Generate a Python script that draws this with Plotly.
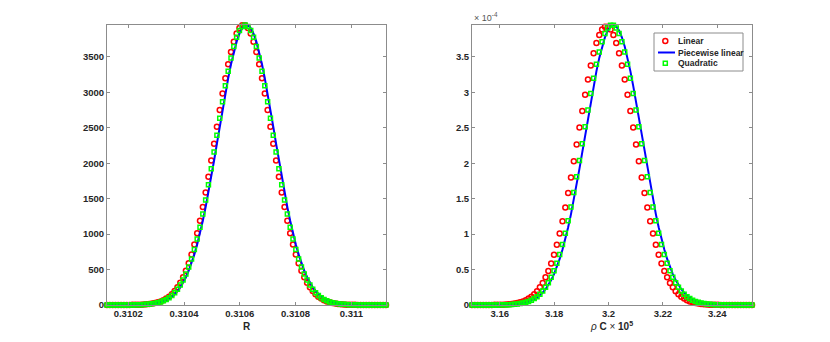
import plotly.graph_objects as go

# evaluation grid of the density estimates (left panel: R)
r_grid = [
    0.3101240, 0.3101341, 0.3101442, 0.3101543, 0.3101644, 0.3101745, 0.3101846, 0.3101947, 0.3102048, 0.3102149,
    0.3102250, 0.3102351, 0.3102452, 0.3102553, 0.3102654, 0.3102755, 0.3102856, 0.3102957, 0.3103058, 0.3103159,
    0.3103260, 0.3103361, 0.3103462, 0.3103563, 0.3103664, 0.3103765, 0.3103866, 0.3103967, 0.3104068, 0.3104169,
    0.3104270, 0.3104371, 0.3104472, 0.3104573, 0.3104674, 0.3104775, 0.3104876, 0.3104977, 0.3105078, 0.3105179,
    0.3105280, 0.3105381, 0.3105482, 0.3105583, 0.3105684, 0.3105785, 0.3105886, 0.3105987, 0.3106088, 0.3106189,
    0.3106290, 0.3106391, 0.3106492, 0.3106593, 0.3106694, 0.3106795, 0.3106896, 0.3106997, 0.3107098, 0.3107199,
    0.3107300, 0.3107401, 0.3107502, 0.3107603, 0.3107704, 0.3107805, 0.3107906, 0.3108007, 0.3108108, 0.3108209,
    0.3108310, 0.3108411, 0.3108512, 0.3108613, 0.3108714, 0.3108815, 0.3108916, 0.3109017, 0.3109118, 0.3109219,
    0.3109320, 0.3109421, 0.3109522, 0.3109623, 0.3109724, 0.3109825, 0.3109926, 0.3110027, 0.3110128, 0.3110229,
    0.3110330, 0.3110431, 0.3110532, 0.3110633, 0.3110734, 0.3110835, 0.3110936, 0.3111037, 0.3111138, 0.3111239,
]

r_linear = [
    0, 0, 0, 0, 0, 0, 0, 1, 1, 2,
    2, 4, 5, 7, 10, 15, 20, 28, 38, 51,
    68, 90, 118, 153, 196, 250, 314, 392, 483, 590,
    714, 854, 1013, 1188, 1381, 1588, 1808, 2039, 2276, 2516,
    2752, 2982, 3198, 3396, 3570, 3715, 3829, 3906, 3945, 3945,
    3906, 3829, 3715, 3570, 3396, 3198, 2982, 2752, 2516, 2276,
    2039, 1808, 1588, 1381, 1188, 1013, 854, 714, 590, 483,
    392, 314, 250, 196, 153, 118, 90, 68, 51, 38,
    28, 20, 15, 10, 7, 5, 4, 2, 2, 1,
    1, 0, 0, 0, 0, 0, 0, 0, 0, 0,
]
r_piecewise = [
    0, 0, 0, 0, 0, 0, 0, 0, 1, 1,
    2, 2, 4, 5, 7, 10, 15, 20, 28, 38,
    51, 68, 90, 118, 153, 196, 250, 314, 392, 483,
    590, 714, 854, 1013, 1188, 1381, 1588, 1808, 2039, 2276,
    2516, 2752, 2982, 3198, 3396, 3570, 3715, 3829, 3906, 3945,
    3945, 3906, 3829, 3715, 3570, 3396, 3198, 2982, 2752, 2516,
    2276, 2039, 1808, 1588, 1381, 1188, 1013, 854, 714, 590,
    483, 392, 314, 250, 196, 153, 118, 90, 68, 51,
    38, 28, 20, 15, 10, 7, 5, 4, 2, 2,
    1, 1, 0, 0, 0, 0, 0, 0, 0, 0,
]
r_quadratic = [
    0, 0, 0, 0, 0, 0, 0, 1, 1, 1,
    2, 3, 4, 6, 9, 12, 17, 24, 32, 44,
    59, 78, 103, 135, 174, 222, 281, 351, 436, 535,
    650, 782, 931, 1098, 1282, 1483, 1697, 1923, 2157, 2396,
    2635, 2868, 3092, 3299, 3486, 3646, 3776, 3872, 3930, 3950,
    3930, 3872, 3776, 3646, 3486, 3299, 3092, 2868, 2635, 2396,
    2157, 1923, 1697, 1483, 1282, 1098, 931, 782, 650, 535,
    436, 351, 281, 222, 174, 135, 103, 78, 59, 44,
    32, 24, 17, 12, 9, 6, 4, 3, 2, 1,
    1, 1, 0, 0, 0, 0, 0, 0, 0, 0,
]

# right panel: rho*C (x 1e5), densities in units of 1e-4
rc_grid = [
    3.14980, 3.15084, 3.15188, 3.15292, 3.15396, 3.15500, 3.15604, 3.15708, 3.15812, 3.15916,
    3.16020, 3.16124, 3.16228, 3.16332, 3.16436, 3.16540, 3.16644, 3.16748, 3.16852, 3.16956,
    3.17060, 3.17164, 3.17268, 3.17372, 3.17476, 3.17580, 3.17684, 3.17788, 3.17892, 3.17996,
    3.18100, 3.18204, 3.18308, 3.18412, 3.18516, 3.18620, 3.18724, 3.18828, 3.18932, 3.19036,
    3.19140, 3.19244, 3.19348, 3.19452, 3.19556, 3.19660, 3.19764, 3.19868, 3.19972, 3.20076,
    3.20180, 3.20284, 3.20388, 3.20492, 3.20596, 3.20700, 3.20804, 3.20908, 3.21012, 3.21116,
    3.21220, 3.21324, 3.21428, 3.21532, 3.21636, 3.21740, 3.21844, 3.21948, 3.22052, 3.22156,
    3.22260, 3.22364, 3.22468, 3.22572, 3.22676, 3.22780, 3.22884, 3.22988, 3.23092, 3.23196,
    3.23300, 3.23404, 3.23508, 3.23612, 3.23716, 3.23820, 3.23924, 3.24028, 3.24132, 3.24236,
    3.24340, 3.24444, 3.24548, 3.24652, 3.24756, 3.24860, 3.24964, 3.25068, 3.25172, 3.25276,
]

rc_linear = [
    0, 0, 0, 0, 0, 0, 0.001, 0.001, 0.002, 0.002,
    0.003, 0.005, 0.007, 0.010, 0.014, 0.020, 0.028, 0.038, 0.051, 0.068,
    0.090, 0.117, 0.152, 0.195, 0.249, 0.312, 0.390, 0.481, 0.587, 0.710,
    0.850, 1.008, 1.182, 1.374, 1.580, 1.799, 2.029, 2.265, 2.503, 2.738,
    2.967, 3.182, 3.379, 3.552, 3.696, 3.810, 3.886, 3.925, 3.925, 3.886,
    3.810, 3.696, 3.552, 3.379, 3.182, 2.967, 2.738, 2.503, 2.265, 2.029,
    1.799, 1.580, 1.374, 1.182, 1.008, 0.850, 0.710, 0.587, 0.481, 0.390,
    0.312, 0.249, 0.195, 0.152, 0.117, 0.090, 0.068, 0.051, 0.038, 0.028,
    0.020, 0.014, 0.010, 0.007, 0.005, 0.003, 0.002, 0.002, 0.001, 0.001,
    0, 0, 0, 0, 0, 0, 0, 0, 0, 0,
]
rc_piecewise = [
    0, 0, 0, 0, 0, 0, 0, 0, 0.001, 0.001,
    0.001, 0.002, 0.003, 0.004, 0.006, 0.009, 0.012, 0.017, 0.024, 0.032,
    0.044, 0.059, 0.078, 0.103, 0.135, 0.174, 0.222, 0.281, 0.351, 0.436,
    0.535, 0.650, 0.782, 0.931, 1.098, 1.282, 1.483, 1.697, 1.923, 2.157,
    2.396, 2.635, 2.868, 3.092, 3.299, 3.486, 3.646, 3.776, 3.872, 3.930,
    3.950, 3.930, 3.872, 3.776, 3.646, 3.486, 3.299, 3.092, 2.868, 2.635,
    2.396, 2.157, 1.923, 1.697, 1.483, 1.282, 1.098, 0.931, 0.782, 0.650,
    0.535, 0.436, 0.351, 0.281, 0.222, 0.174, 0.135, 0.103, 0.078, 0.059,
    0.044, 0.032, 0.024, 0.017, 0.012, 0.009, 0.006, 0.004, 0.003, 0.002,
    0.001, 0.001, 0.001, 0, 0, 0, 0, 0, 0, 0,
]
rc_quadratic = [
    0, 0, 0, 0, 0, 0, 0, 0, 0.001, 0.001,
    0.002, 0.002, 0.004, 0.005, 0.007, 0.010, 0.015, 0.020, 0.028, 0.038,
    0.051, 0.068, 0.090, 0.118, 0.153, 0.196, 0.250, 0.314, 0.392, 0.483,
    0.590, 0.714, 0.854, 1.013, 1.188, 1.381, 1.588, 1.808, 2.039, 2.276,
    2.516, 2.752, 2.982, 3.198, 3.396, 3.570, 3.715, 3.829, 3.906, 3.945,
    3.945, 3.906, 3.829, 3.715, 3.570, 3.396, 3.198, 2.982, 2.752, 2.516,
    2.276, 2.039, 1.808, 1.588, 1.381, 1.188, 1.013, 0.854, 0.714, 0.590,
    0.483, 0.392, 0.314, 0.250, 0.196, 0.153, 0.118, 0.090, 0.068, 0.051,
    0.038, 0.028, 0.020, 0.015, 0.010, 0.007, 0.005, 0.004, 0.002, 0.002,
    0.001, 0.001, 0, 0, 0, 0, 0, 0, 0, 0,
]

r_ticks = [0.3102, 0.3104, 0.3106, 0.3108, 0.311]
r_ticktext = ["0.3102", "0.3104", "0.3106", "0.3108", "0.311"]
rc_ticks = [3.16, 3.18, 3.2, 3.22, 3.24]
rc_ticktext = ["3.16", "3.18", "3.2", "3.22", "3.24"]
series_names = ["Linear", "Piecewise linear", "Quadratic"]

FONT = "Liberation Sans, Arial, Helvetica, sans-serif"
AXC = "#8c8c8c"
TXT = "#262626"
RED, BLUE, GREEN = "#ff0000", "#0000ff", "#00ff00"
W, H = 830, 342


def px(x):
    return x / W


def py(y):
    return 1 - y / H


def add_set(fig, x, lin, pw, quad, xa, ya):
    fig.add_trace(go.Scatter(
        x=x, y=lin, name=series_names[0], mode="markers", xaxis=xa, yaxis=ya,
        marker=dict(symbol="circle-open", size=5, color=RED, line=dict(width=1.5)),
        cliponaxis=False))
    fig.add_trace(go.Scatter(
        x=x, y=pw, name=series_names[1], mode="lines", xaxis=xa, yaxis=ya,
        line=dict(color=BLUE, width=2), cliponaxis=False))
    fig.add_trace(go.Scatter(
        x=x, y=quad, name=series_names[2], mode="markers", xaxis=xa, yaxis=ya,
        marker=dict(symbol="square-open", size=4, color=GREEN, line=dict(width=1.5)),
        cliponaxis=False))


def axis(**kw):
    d = dict(showline=True, mirror="ticks", linecolor=AXC, linewidth=1,
             ticks="inside", ticklen=3, tickcolor=AXC, showgrid=False, zeroline=False,
             automargin=False,
             tickfont=dict(family=FONT, size=9.5, color=TXT, weight="bold"))
    d.update(kw)
    return d


fig = go.Figure()
add_set(fig, r_grid, r_linear, r_piecewise, r_quadratic, "x", "y")
add_set(fig, rc_grid, rc_linear, rc_piecewise, rc_quadratic, "x2", "y2")

y0, y1 = py(305), py(25)

# MATLAB-style legend box (drawn by hand so rows can be packed tightly)
legend_shapes = [
    dict(type="rect", xref="paper", yref="paper", x0=px(654), x1=px(743), y0=py(71), y1=py(33),
         line=dict(color=AXC, width=1), fillcolor="white"),
    dict(type="circle", xref="paper", yref="paper", x0=px(662.8), x1=px(667.8), y0=py(43.5), y1=py(38.5),
         line=dict(color=RED, width=1.5)),
    dict(type="line", xref="paper", yref="paper", x0=px(658), x1=px(675), y0=py(52.5), y1=py(52.5),
         line=dict(color=BLUE, width=2)),
    dict(type="rect", xref="paper", yref="paper", x0=px(663.3), x1=px(667.3), y0=py(65.3), y1=py(61.3),
         line=dict(color=GREEN, width=1.5)),
]
legend_text = [
    dict(text=name, x=px(676), y=py(yy), xref="paper", yref="paper", xanchor="left", yanchor="middle",
         showarrow=False, font=dict(family=FONT, size=8.5, color=TXT, weight="bold"))
    for name, yy in zip(series_names, [41, 52.5, 63.3])
]

fig.update_layout(
    width=W, height=H,
    margin=dict(l=0, r=0, t=0, b=0),
    paper_bgcolor="white", plot_bgcolor="white",
    font=dict(family=FONT, color=TXT),
    showlegend=False,
    xaxis=axis(domain=[px(107), px(386)], range=[r_grid[0], r_grid[-1]],
               tickvals=r_ticks, ticktext=r_ticktext, anchor="y",
               title=dict(text="<b>R</b>", font=dict(size=10, color=TXT), standoff=4)),
    yaxis=axis(domain=[y0, y1], range=[0, 3950], tickvals=[0, 500, 1000, 1500, 2000, 2500, 3000, 3500],
               anchor="x"),
    xaxis2=axis(domain=[px(472), px(752)], range=[rc_grid[0], rc_grid[-1]],
                tickvals=rc_ticks, ticktext=rc_ticktext, anchor="y2",
                title=dict(text="<i>ρ</i> <b>C</b> × <b>10<sup>5</sup></b>",
                           font=dict(size=10, color=TXT), standoff=4)),
    yaxis2=axis(domain=[y0, y1], range=[0, 3.95], tickvals=[0, 0.5, 1, 1.5, 2, 2.5, 3, 3.5],
                ticktext=["0", "0.5", "1", "1.5", "2", "2.5", "3", "3.5"], anchor="x2"),
    shapes=legend_shapes,
    annotations=[dict(text="× 10<sup>-4</sup>", x=px(472), y=y1, xref="paper", yref="paper",
                      xanchor="left", yanchor="bottom", showarrow=False,
                      font=dict(family=FONT, size=9, color="#555555"))] + legend_text,
)

fig.write_html("out.html", config={"displayModeBar": False},
               post_script="document.body.style.margin='0';")
